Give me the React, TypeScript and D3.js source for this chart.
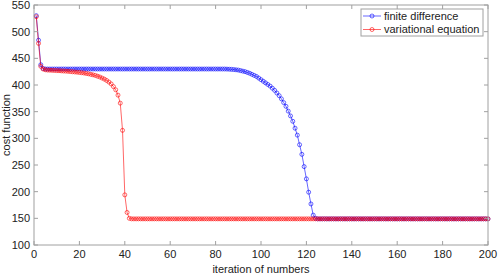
import * as d3 from "d3";

// iterations 1..200
const finiteDifference = [
  530, 484, 438, 431, 430, 430, 430, 430, 430, 430, 430, 430, 430, 430, 430, 430, 430, 430, 430, 430,
  430, 430, 430, 430, 430, 430, 430, 430, 430, 430, 430, 430, 430, 430, 430, 430, 430, 430, 430, 430,
  430, 430, 430, 430, 430, 430, 430, 430, 430, 430, 430, 430, 430, 430, 430, 430, 430, 430, 430, 430,
  430, 430, 430, 430, 430, 430, 430, 430, 430, 430, 430, 430, 430, 430, 430, 430, 430, 430, 430, 430,
  430, 430, 430, 430, 429.8, 429.6, 429.3, 429, 428.5, 428, 427, 426, 425, 423.5, 422, 420, 418, 416, 413, 410,
  407, 404, 401, 398, 394, 390, 385, 380, 374, 367, 360, 351, 342, 332, 319, 306, 288, 270, 247, 224,
  199, 177, 156, 150, 149, 149, 149, 149, 149, 149, 149, 149, 149, 149, 149, 149, 149, 149, 149, 149,
  149, 149, 149, 149, 149, 149, 149, 149, 149, 149, 149, 149, 149, 149, 149, 149, 149, 149, 149, 149,
  149, 149, 149, 149, 149, 149, 149, 149, 149, 149, 149, 149, 149, 149, 149, 149, 149, 149, 149, 149,
  149, 149, 149, 149, 149, 149, 149, 149, 149, 149, 149, 149, 149, 149, 149, 149, 149, 149, 149, 149,
];

const variationalEquation = [
  528, 478, 435, 430, 428.5, 428, 427.8, 427.5, 427.3, 427, 426.8, 426.5, 426.2, 426, 425.6, 425.2, 424.8, 424.4, 424, 423.5,
  423, 422.4, 421.7, 421, 420, 419, 418, 416.5, 415, 413, 411, 408.5, 405.5, 402, 397, 391, 381, 366, 315, 194,
  161, 150, 149, 149, 149, 149, 149, 149, 149, 149, 149, 149, 149, 149, 149, 149, 149, 149, 149, 149,
  149, 149, 149, 149, 149, 149, 149, 149, 149, 149, 149, 149, 149, 149, 149, 149, 149, 149, 149, 149,
  149, 149, 149, 149, 149, 149, 149, 149, 149, 149, 149, 149, 149, 149, 149, 149, 149, 149, 149, 149,
  149, 149, 149, 149, 149, 149, 149, 149, 149, 149, 149, 149, 149, 149, 149, 149, 149, 149, 149, 149,
  149, 149, 149, 149, 149, 149, 149, 149, 149, 149, 149, 149, 149, 149, 149, 149, 149, 149, 149, 149,
  149, 149, 149, 149, 149, 149, 149, 149, 149, 149, 149, 149, 149, 149, 149, 149, 149, 149, 149, 149,
  149, 149, 149, 149, 149, 149, 149, 149, 149, 149, 149, 149, 149, 149, 149, 149, 149, 149, 149, 149,
  149, 149, 149, 149, 149, 149, 149, 149, 149, 149, 149, 149, 149, 149, 149, 149, 149, 149, 149, 149,
];

const xTicks = [0, 20, 40, 60, 80, 100, 120, 140, 160, 180, 200];
const yTicks = [100, 150, 200, 250, 300, 350, 400, 450, 500, 550];

const seriesNames = ["finite difference", "variational equation"];
const seriesColors = ["#0000ff", "#ff0000"];

const W = 498;
const H = 274;
const m = { left: 34, right: 10, top: 5, bottom: 29 };
const font = "'Liberation Sans', Arial, sans-serif";
const axisColor = "#a0a0a0";
const textColor = "#222";
const fs = 11;

export default function App() {
  const x = d3.scaleLinear().domain([0, 200]).range([m.left, W - m.right]);
  const y = d3.scaleLinear().domain([100, 550]).range([H - m.bottom, m.top]);
  const x0 = x.range()[0], x1 = x.range()[1];
  const y0 = y.range()[0], y1 = y.range()[1];

  const series = [finiteDifference, variationalEquation].map((vals, i) => ({
    name: seriesNames[i],
    color: seriesColors[i],
    points: vals.map((v, j) => [j + 1, v] as [number, number]),
  }));

  const line = d3
    .line<[number, number]>()
    .x((d) => x(d[0]))
    .y((d) => y(d[1]));

  const tl = 4;

  return (
    <svg
      width={W}
      height={H}
      style={{ position: "absolute", left: 0, top: 0, background: "#fff" }}
      fontFamily={font}
    >
      <rect x={0} y={0} width={W} height={H} fill="#fff" />

      {/* data */}
      {series.map((s) => (
        <g key={s.name}>
          <path d={line(s.points) || ""} fill="none" stroke={s.color} strokeWidth={0.6} />
          {s.points.map((p, j) => (
            <circle
              key={j}
              cx={x(p[0])}
              cy={y(p[1])}
              r={2}
              fill="none"
              stroke={s.color}
              strokeWidth={0.6}
            />
          ))}
        </g>
      ))}

      {/* axes box */}
      <rect
        x={x0}
        y={y1}
        width={x1 - x0}
        height={y0 - y1}
        fill="none"
        stroke={axisColor}
        strokeWidth={1}
      />
      {xTicks.map((t) => (
        <g key={"x" + t}>
          <line x1={x(t)} x2={x(t)} y1={y0} y2={y0 - tl} stroke={axisColor} />
          <line x1={x(t)} x2={x(t)} y1={y1} y2={y1 + tl} stroke={axisColor} />
          <text
            x={x(t)}
            y={y0 + 12.5}
            textAnchor="middle"
            fontSize={fs}
            fill={textColor}
          >
            {t}
          </text>
        </g>
      ))}
      {yTicks.map((t) => (
        <g key={"y" + t}>
          <line x1={x0} x2={x0 + tl} y1={y(t)} y2={y(t)} stroke={axisColor} />
          <line x1={x1} x2={x1 - tl} y1={y(t)} y2={y(t)} stroke={axisColor} />
          <text
            x={x0 - 4}
            y={y(t)}
            dy="0.36em"
            textAnchor="end"
            fontSize={fs}
            fill={textColor}
          >
            {t}
          </text>
        </g>
      ))}

      <text
        x={(x0 + x1) / 2}
        y={H - 1}
        textAnchor="middle"
        fontSize={fs}
        fill={textColor}
      >
        iteration of numbers
      </text>
      <text
        transform={`translate(10,${(y0 + y1) / 2}) rotate(-90)`}
        textAnchor="middle"
        fontSize={fs}
        fill={textColor}
      >
        cost function
      </text>

      {/* legend */}
      <g>
        <rect x={361} y={9} width={122} height={27} fill="#fff" stroke={axisColor} />
        {series.map((s, i) => (
          <g key={s.name} transform={`translate(0,${16 + i * 13.5})`}>
            <line x1={363} x2={381} y1={0} y2={0} stroke={s.color} strokeWidth={0.6} />
            <circle cx={372} cy={0} r={2} fill="none" stroke={s.color} strokeWidth={0.6} />
            <text x={384} y={0} dy="0.36em" fontSize={fs} fill={textColor}>
              {s.name}
            </text>
          </g>
        ))}
      </g>
    </svg>
  );
}
